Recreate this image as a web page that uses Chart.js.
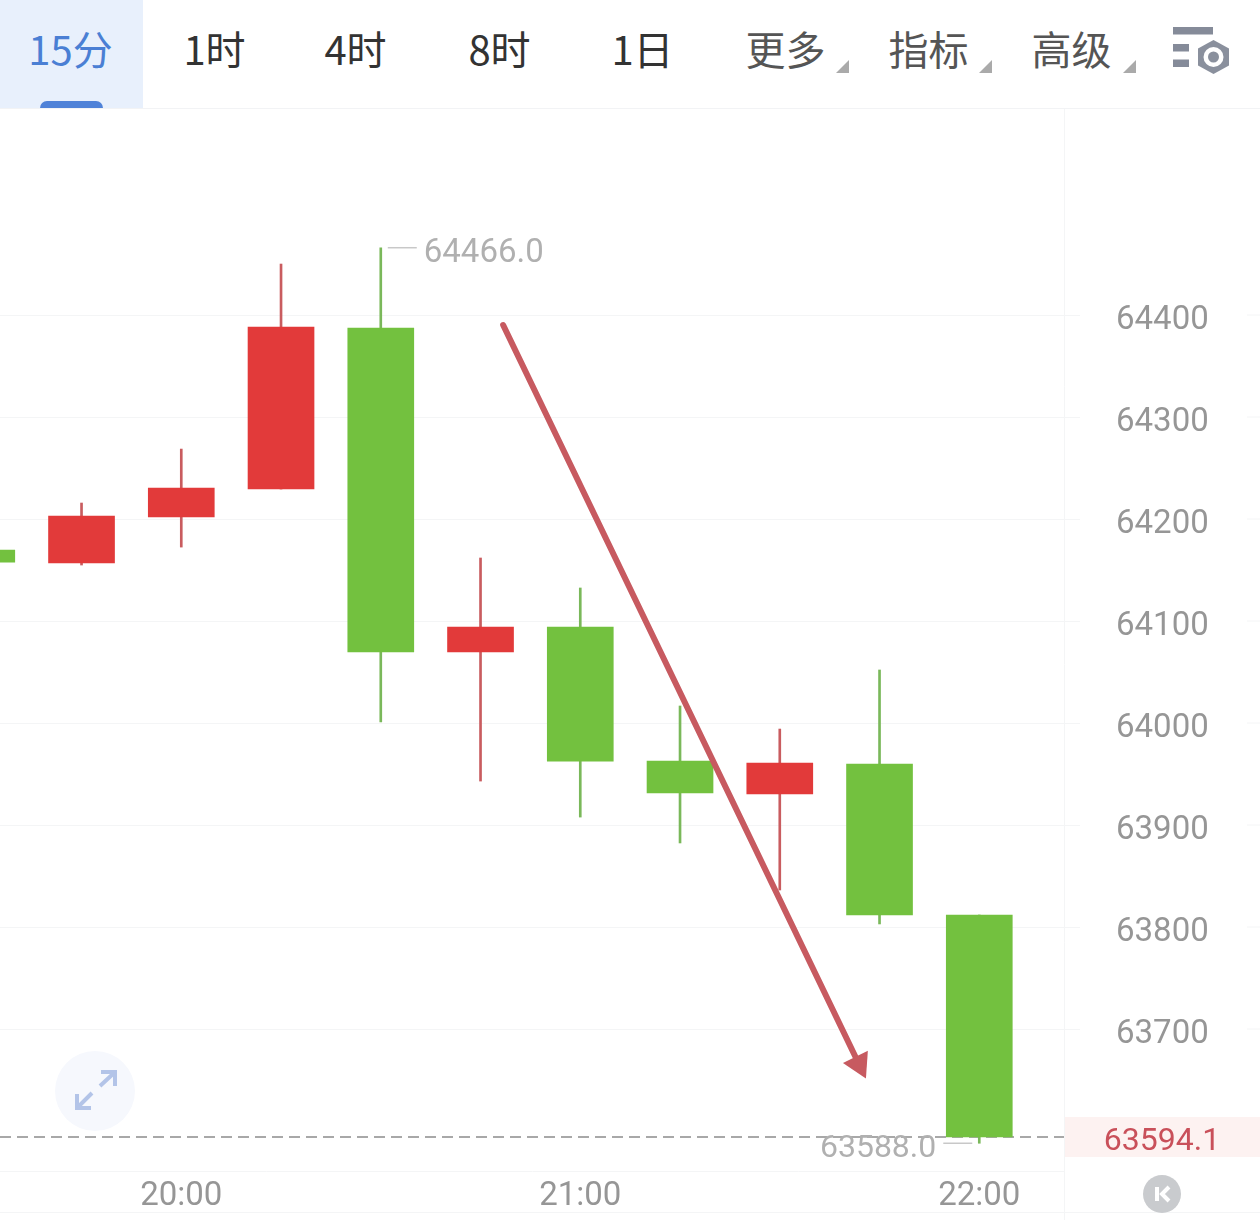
<!DOCTYPE html>
<html>
<head>
<meta charset="utf-8">
<script src="https://cdn.jsdelivr.net/npm/chart.js@4"></script>
<style>
  html, body { margin: 0; padding: 0; background: #fff; }
  #page { position: relative; width: 1260px; height: 1220px; overflow: hidden; font-family: "Noto Sans CJK SC", sans-serif; }
  #toolbar { position: absolute; left: 0; top: 0; width: 1260px; height: 108px; border-bottom: 1px solid #f2f3f5; }
  .tab { position: absolute; top: 19px; width: 143px; text-align: center; font-size: 40px; line-height: 58px; font-weight: 400; color: #333; white-space: nowrap; }
  .tab.more { color: #555; }
  .tab.active { color: #4a7fd4; }
  #activeBg { position: absolute; left: 0; top: 0; width: 143px; height: 108px; background: #e8f0fc; }
  #activePill { position: absolute; left: 40px; top: 101px; width: 63px; height: 7px; background: #4f82d8; border-radius: 7px 7px 0 0; }
  .caret { position: absolute; top: 60px; width: 0; height: 0; border-left: 13px solid transparent; border-bottom: 13px solid #aaa; }
  canvas { position: absolute; left: 0; top: 109px; }
  .overlay { position: absolute; }
</style>
</head>
<body>
<div id="page">
  <div id="toolbar">
    <div id="activeBg"></div>
    <div id="activePill"></div>
    <div class="tab active" style="left:-1px">15分</div>
    <div class="tab" style="left:143px">1时</div>
    <div class="tab" style="left:284px">4时</div>
    <div class="tab" style="left:428px">8时</div>
    <div class="tab" style="left:571px">1日</div>
    <div class="tab more" style="left:714px">更多</div>
    <div class="tab more" style="left:857px">指标</div>
    <div class="tab more" style="left:1000px">高级</div>
    <div class="caret" style="left:836px"></div>
    <div class="caret" style="left:979px"></div>
    <div class="caret" style="left:1123px"></div>
    <svg class="overlay" style="left:1172px;top:26px" width="60" height="50" viewBox="0 0 60 50">
      <rect x="1" y="1" width="40" height="7.5" fill="#858b99"/>
      <rect x="1" y="18" width="16" height="7.5" fill="#858b99"/>
      <rect x="1" y="33.5" width="16" height="7.5" fill="#858b99"/>
      <polygon points="41.5,14 57,22.5 57,39.5 41.5,48 26,39.5 26,22.5" fill="#8a909d"/>
      <circle cx="41.5" cy="31" r="10" fill="#fff"/>
      <circle cx="41.5" cy="31" r="5.5" fill="#8a909d"/>
    </svg>
  </div>
  <canvas id="klineChart" width="1260" height="1111"></canvas>
  <svg class="overlay" style="left:54px;top:1050px" width="82" height="82" viewBox="0 0 82 82">
    <circle cx="41" cy="41" r="40" fill="#f6f8fd"/>
    <g fill="none" stroke="#b3c4e8" stroke-width="4">
      <path d="M46 36 L60 23 M47 22 L61 22 L61 36"/>
      <path d="M38 43 L24 57 M23 44 L23 58 L37 58"/>
    </g>
  </svg>
  <svg class="overlay" style="left:1143px;top:1175px" width="38" height="38" viewBox="0 0 38 38">
    <circle cx="19" cy="19" r="19" fill="#c9cbce"/>
    <rect x="12" y="12" width="4" height="14" fill="#fff"/>
    <path d="M26 12 L19 19 L26 26" fill="none" stroke="#fff" stroke-width="4"/>
  </svg>
</div>
<script>
// Datos
const candleTimes = [1170, 1185, 1200, 1215, 1230, 1245, 1260, 1275, 1290, 1305, 1320];
const candleOpen  = [64169.6, 64156.9, 64202.0, 64229.4, 64387.3, 64069.6, 64094.0, 63962.7, 63930.4, 63959.8, 63811.8];
const candleClose = [64157.8, 64202.9, 64230.4, 64388.2, 64069.6, 64094.0, 63962.7, 63931.4, 63960.8, 63811.8, 63594.1];
const candleHigh  = [64169.6, 64215.7, 64268.6, 64450.0, 64466.0, 64161.8, 64132.4, 64016.7, 63994.1, 64052.0, 63811.8];
const candleLow   = [64157.8, 64154.9, 64172.5, 64229.4, 64001.0, 63943.1, 63907.8, 63882.4, 63836.3, 63803.0, 63588.0];

const priceTicks = [63700, 63800, 63900, 64000, 64100, 64200, 64300, 64400];
const timeTicks = [1200, 1260, 1320];
const timeLabels = ['20:00', '21:00', '22:00'];

const highLabel = { x: 1230, y: 64466.0, text: '64466.0' };
const lowLabel = { x: 1320, y: 63588.0, text: '63588.0' };
const lastPrice = 63594.1;

// Flecha dibujada sobre el grafico (tiempo, precio)
const arrowTimes = [1248.4, 1301.9];
const arrowPrices = [64390.2, 63665.7];

const RED = '#e23a3a';
const GREEN = '#73c13f';
const WICK_RED = '#c95c5f';
const WICK_GREEN = '#7ab85a';
const GRID = '#f4f5f6';
const X_MIN = 1172.74;
const X_MAX = 1332.74;

const isUp = candleOpen.map((o, i) => candleClose[i] >= o);
const candleColors = isUp.map(up => up ? RED : GREEN);
const wickColors = isUp.map(up => up ? WICK_RED : WICK_GREEN);

// Quitar el margen que Chart.js reserva para las etiquetas
function noPadding(axis) {
    axis.paddingLeft = 0;
    axis.paddingRight = 0;
    axis.paddingTop = 0;
    axis.paddingBottom = 0;
}

// Textos y lineas que van fuera de los datasets
const decorPlugin = {
    id: 'decor',
    beforeDraw(chart) {
        const c = chart.ctx;
        const y = chart.scales.y;
        const area = chart.chartArea;
        c.save();
        // Caja del precio actual
        const py = y.getPixelForValue(lastPrice);
        c.fillStyle = '#fdf2f1';
        c.fillRect(area.right, py - 20, chart.width - area.right, 40);
        // Trozos de rejilla a la derecha
        c.strokeStyle = GRID;
        c.lineWidth = 1;
        priceTicks.forEach(t => {
            const p = y.getPixelForValue(t);
            c.beginPath();
            c.moveTo(1247, p);
            c.lineTo(chart.width, p);
            c.stroke();
        });
        // Lineas del eje inferior
        c.beginPath();
        c.moveTo(0, area.bottom + 41.5);
        c.lineTo(chart.width, area.bottom + 41.5);
        c.moveTo(area.right + 0.5, 0);
        c.lineTo(area.right + 0.5, chart.height);
        c.stroke();
        c.restore();
    },
    afterDraw(chart) {
        const c = chart.ctx;
        const x = chart.scales.x;
        const y = chart.scales.y;
        c.save();
        c.textBaseline = 'middle';

        c.font = '32px Roboto, sans-serif';
        c.fillStyle = '#c9505a';
        c.textAlign = 'center';
        c.fillText(lastPrice.toFixed(1), 1162, y.getPixelForValue(lastPrice) + 5);

        c.font = '33px Roboto, sans-serif';
        c.fillStyle = '#b0b0b0';
        c.strokeStyle = '#c8c8c8';
        c.lineWidth = 1.5;
        const hx = x.getPixelForValue(highLabel.x);
        const hy = y.getPixelForValue(highLabel.y);
        c.textAlign = 'left';
        c.fillText(highLabel.text, hx + 43, hy + 6);
        c.beginPath();
        c.moveTo(hx + 7, hy);
        c.lineTo(hx + 36, hy);
        c.stroke();

        c.font = '32px Roboto, sans-serif';
        const lx = x.getPixelForValue(lowLabel.x);
        const ly = y.getPixelForValue(lowLabel.y);
        c.textAlign = 'right';
        c.fillText(lowLabel.text, lx - 43, ly + 6);
        c.beginPath();
        c.moveTo(lx - 36, ly);
        c.lineTo(lx - 7, ly);
        c.stroke();
        c.restore();
    }
};

const klineChart = new Chart(document.getElementById('klineChart'), {
    type: 'bar',
    plugins: [decorPlugin],
    data: {
        datasets: [
            {
                type: 'line',
                label: 'Flecha',
                data: arrowTimes.map((t, i) => ({ x: t, y: arrowPrices[i] })),
                borderColor: '#c75a60',
                backgroundColor: '#c75a60',
                borderWidth: 6,
                borderCapStyle: 'round',
                pointStyle: 'triangle',
                pointRadius: [0, 16],
                pointRotation: 154,
                pointBorderWidth: 0,
                order: 0
            },
            {
                type: 'line',
                label: 'Precio actual',
                data: [{ x: X_MIN, y: lastPrice }, { x: X_MAX, y: lastPrice }],
                borderColor: '#a8a8a8',
                borderWidth: 2,
                borderDash: [11, 6],
                pointRadius: 0,
                order: 3
            },
            {
                label: 'Cuerpo',
                data: candleTimes.map((t, i) => ({ x: t, y: [candleOpen[i], candleClose[i]] })),
                backgroundColor: candleColors,
                barThickness: 66,
                grouped: false,
                order: 1
            },
            {
                label: 'Mecha',
                data: candleTimes.map((t, i) => ({ x: t, y: [candleLow[i], candleHigh[i]] })),
                backgroundColor: wickColors,
                barThickness: 2,
                grouped: false,
                order: 2
            }
        ]
    },
    options: {
        responsive: false,
        animation: false,
        events: [],
        layout: { padding: 0, autoPadding: false },
        plugins: {
            legend: { display: false },
            tooltip: { enabled: false }
        },
        scales: {
            x: {
                type: 'linear',
                offset: false,
                min: X_MIN,
                max: X_MAX,
                afterBuildTicks: axis => { axis.ticks = timeTicks.map(v => ({ value: v })); },
                afterFit: axis => { axis.height = 49; noPadding(axis); },
                grid: { display: false },
                border: { color: GRID },
                ticks: {
                    callback: v => timeLabels[timeTicks.indexOf(v)],
                    color: '#969696',
                    font: { family: 'Roboto, sans-serif', size: 33 },
                    padding: -2,
                    maxRotation: 0,
                    autoSkip: false
                }
            },
            y: {
                position: 'right',
                min: 63560.8,
                max: 64602,
                afterBuildTicks: axis => { axis.ticks = priceTicks.map(v => ({ value: v })); },
                afterFit: axis => { axis.width = 196; noPadding(axis); },
                grid: { color: GRID, tickLength: 16 },
                border: { display: false },
                ticks: {
                    callback: v => String(v),
                    crossAlign: 'center',
                    color: '#969696',
                    font: { family: 'Roboto, sans-serif', size: 33 },
                    padding: 36,
                    labelOffset: 6
                }
            }
        }
    }
});
</script>
</body>
</html>
